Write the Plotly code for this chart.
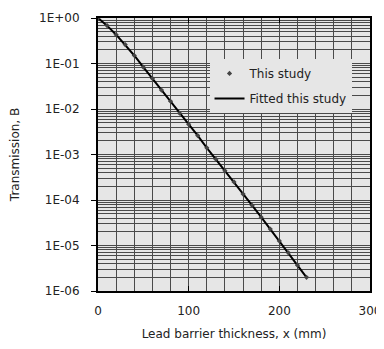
import plotly.graph_objects as go

thickness_mm = [0, 10, 20, 30, 40, 50, 60, 70, 80, 90, 100, 110, 120,
                130, 140, 150, 160, 170, 180, 190, 200, 210, 220, 230]
transmission_study = [1.0, 0.68, 0.43, 0.26, 0.15, 0.083, 0.047, 0.026, 0.0148,
                      0.0081, 0.0046, 0.0026, 0.0014, 7.9e-4, 4.4e-4, 2.5e-4,
                      1.35e-4, 7.6e-5, 4.2e-5, 2.3e-5, 1.26e-5, 6.9e-6, 3.7e-6, 2.0e-6]
transmission_fit = [1.0, 0.68, 0.43, 0.26, 0.15, 0.083, 0.047, 0.026, 0.0148,
                    0.0081, 0.0046, 0.0026, 0.0014, 7.9e-4, 4.4e-4, 2.5e-4,
                    1.35e-4, 7.6e-5, 4.2e-5, 2.3e-5, 1.26e-5, 6.9e-6, 3.7e-6, 2.0e-6]
y_tickvals = [1, 1e-1, 1e-2, 1e-3, 1e-4, 1e-5, 1e-6]
y_ticktext = ["1E+00", "1E-01", "1E-02", "1E-03", "1E-04", "1E-05", "1E-06"]
x_tickvals = [0, 100, 200, 300]

FONT = "DejaVu Sans"
GRID = "#4a4a4a"

fig = go.Figure()
fig.add_trace(go.Scatter(
    x=thickness_mm, y=transmission_fit, mode="lines", name="Fitted this study",
    line=dict(color="black", width=2), legendgroup="b", legendrank=2))
fig.add_trace(go.Scatter(
    x=thickness_mm, y=transmission_study, mode="markers", name="This study",
    marker=dict(symbol="diamond", size=4, color="#444444"),
    legendgroup="a", legendrank=1))

# the page body adds an 8px offset, so the figure is 8px smaller on each side
fig.update_layout(
    width=376, height=341,
    margin=dict(l=90, r=14, t=10, b=58, autoexpand=False),
    paper_bgcolor="white", plot_bgcolor="#e6e6e6",
    font=dict(family=FONT, size=12, color="#222222"),
    legend=dict(x=0.41, y=0.850, xanchor="left", yanchor="top",
                bgcolor="#e6e6e6", borderwidth=0, itemwidth=30,
                tracegroupgap=6, traceorder="grouped",
                font=dict(family=FONT, size=12, color="#222222")),
    xaxis=dict(
        range=[0, 300], tickvals=x_tickvals, ticks="inside", ticklen=5,
        tickcolor="black", showline=True, linecolor="black", linewidth=2,
        mirror="ticks", showgrid=True, gridcolor=GRID, gridwidth=1,
        zeroline=False, ticklabelstandoff=8, automargin=False,
        minor=dict(dtick=20, showgrid=True, gridcolor=GRID, gridwidth=1),
        title=dict(text="Lead barrier thickness, x (mm)", standoff=12,
                   font=dict(family=FONT, size=12))),
    yaxis=dict(
        type="log", range=[-6, 0], tickvals=y_tickvals, ticktext=y_ticktext,
        ticks="outside", ticklen=5, tickcolor="black", showline=True,
        linecolor="black", linewidth=2, mirror=True, showgrid=True,
        gridcolor=GRID, gridwidth=1, zeroline=False, ticklabelstandoff=9,
        automargin=False,
        minor=dict(dtick="D1", showgrid=True, gridcolor=GRID, gridwidth=1),
        title=dict(text="Transmission, B", standoff=17,
                   font=dict(family=FONT, size=12))),
)

fig.write_html("out.html")
